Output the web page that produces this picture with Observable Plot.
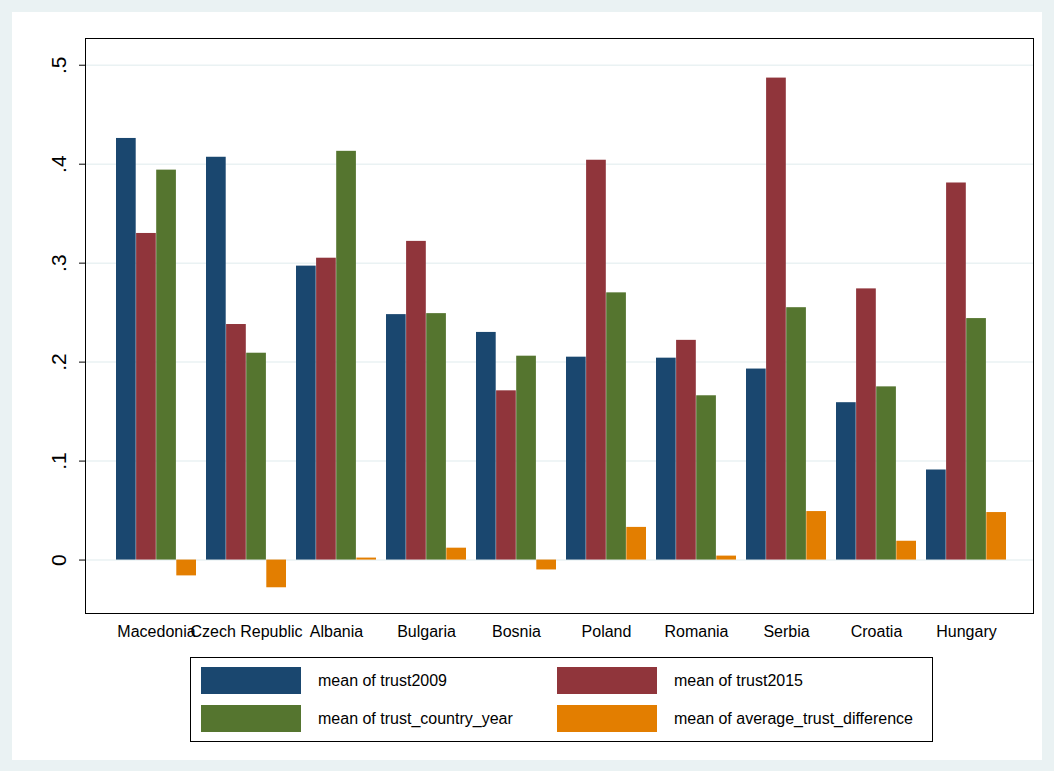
<!DOCTYPE html>
<html>
<head>
<meta charset="utf-8">
<script src="https://cdn.jsdelivr.net/npm/d3@7"></script>
<script src="https://cdn.jsdelivr.net/npm/@observablehq/plot@0.6"></script>
<style>
  body { margin: 0; font-family: "Liberation Sans", Arial, sans-serif; }
  #page { position: relative; width: 1054px; height: 771px; background: #eaf2f3; overflow: hidden; }
  #panel { position: absolute; left: 12px; top: 12px; width: 1030px; height: 748px; background: #fff; }
  #chart { position: absolute; left: 0; top: 0; }
  #legend { position: absolute; left: 190px; top: 657px; width: 741px; height: 83px; border: 1px solid #000; background: #fff; }
  .item { position: absolute; display: flex; align-items: center; font-size: 16px; color: #000; }
  .sw { width: 100px; height: 27px; margin-right: 17px; }
</style>
</head>
<body>
<div id="page">
  <div id="panel"></div>
  <div id="chart"></div>
  <div id="legend"></div>
</div>
<script>
const countries = ["Macedonia", "Czech Republic", "Albania", "Bulgaria", "Bosnia", "Poland", "Romania", "Serbia", "Croatia", "Hungary"];
const trust2009 = [0.426, 0.407, 0.297, 0.248, 0.230, 0.205, 0.204, 0.193, 0.159, 0.091];
const trust2015 = [0.330, 0.238, 0.305, 0.322, 0.171, 0.404, 0.222, 0.487, 0.274, 0.381];
const trustCountryYear = [0.394, 0.209, 0.413, 0.249, 0.206, 0.270, 0.166, 0.255, 0.175, 0.244];
const avgTrustDiff = [-0.016, -0.028, 0.002, 0.012, -0.010, 0.033, 0.004, 0.049, 0.019, 0.048];
const yTicks = [0, 0.1, 0.2, 0.3, 0.4, 0.5];

const series = [
  {name: "mean of trust2009", values: trust2009, color: "#1a476f"},
  {name: "mean of trust2015", values: trust2015, color: "#90353b"},
  {name: "mean of trust_country_year", values: trustCountryYear, color: "#55752f"},
  {name: "mean of average_trust_difference", values: avgTrustDiff, color: "#e37e00"}
];

const barW = 20.1;
const marks = [
  Plot.gridY(yTicks, {stroke: "#eaf2f3", strokeOpacity: 1, strokeWidth: 1.5})
];
series.forEach((s, i) => {
  const rows = countries.map((c, j) => ({country: c, value: s.values[j]}));
  marks.push(Plot.barY(rows, {
    x: "country", y: "value", fill: s.color,
    insetLeft: barW * i, insetRight: barW * (3 - i)
  }));
});
marks.push(Plot.frame({stroke: "#000", strokeWidth: 1}));

const chart = Plot.plot({
  width: 1054,
  height: 650,
  marginLeft: 85,
  marginRight: 21,
  marginTop: 38,
  marginBottom: 37,
  style: {background: "transparent", fontFamily: "Liberation Sans, Arial, sans-serif"},
  x: {domain: countries, paddingInner: 0.11, paddingOuter: 0.3, align: 0.53, label: null, tickSize: 0, tickPadding: 12},
  y: {domain: [-0.054, 0.527], ticks: yTicks, tickFormat: d => d === 0 ? "0" : d3.format(".1f")(d).replace(/^0/, ""), label: null, tickSize: 6, tickRotate: -90, tickPadding: 14},
  marks
});
d3.select(chart).selectAll("[aria-label='x-axis tick label'] text").style("font-size", "16px");
d3.select(chart).selectAll("[aria-label='y-axis tick label'] text").style("font-size", "21px");
document.getElementById("chart").appendChild(chart);

const legend = document.getElementById("legend");
const pos = [[10, 9], [366, 9], [10, 47], [366, 47]];
series.forEach((s, i) => {
  const el = document.createElement("div");
  el.className = "item";
  el.style.left = pos[i][0] + "px";
  el.style.top = pos[i][1] + "px";
  el.innerHTML = `<div class="sw" style="background:${s.color}"></div><span>${s.name}</span>`;
  legend.appendChild(el);
});
</script>
</body>
</html>
